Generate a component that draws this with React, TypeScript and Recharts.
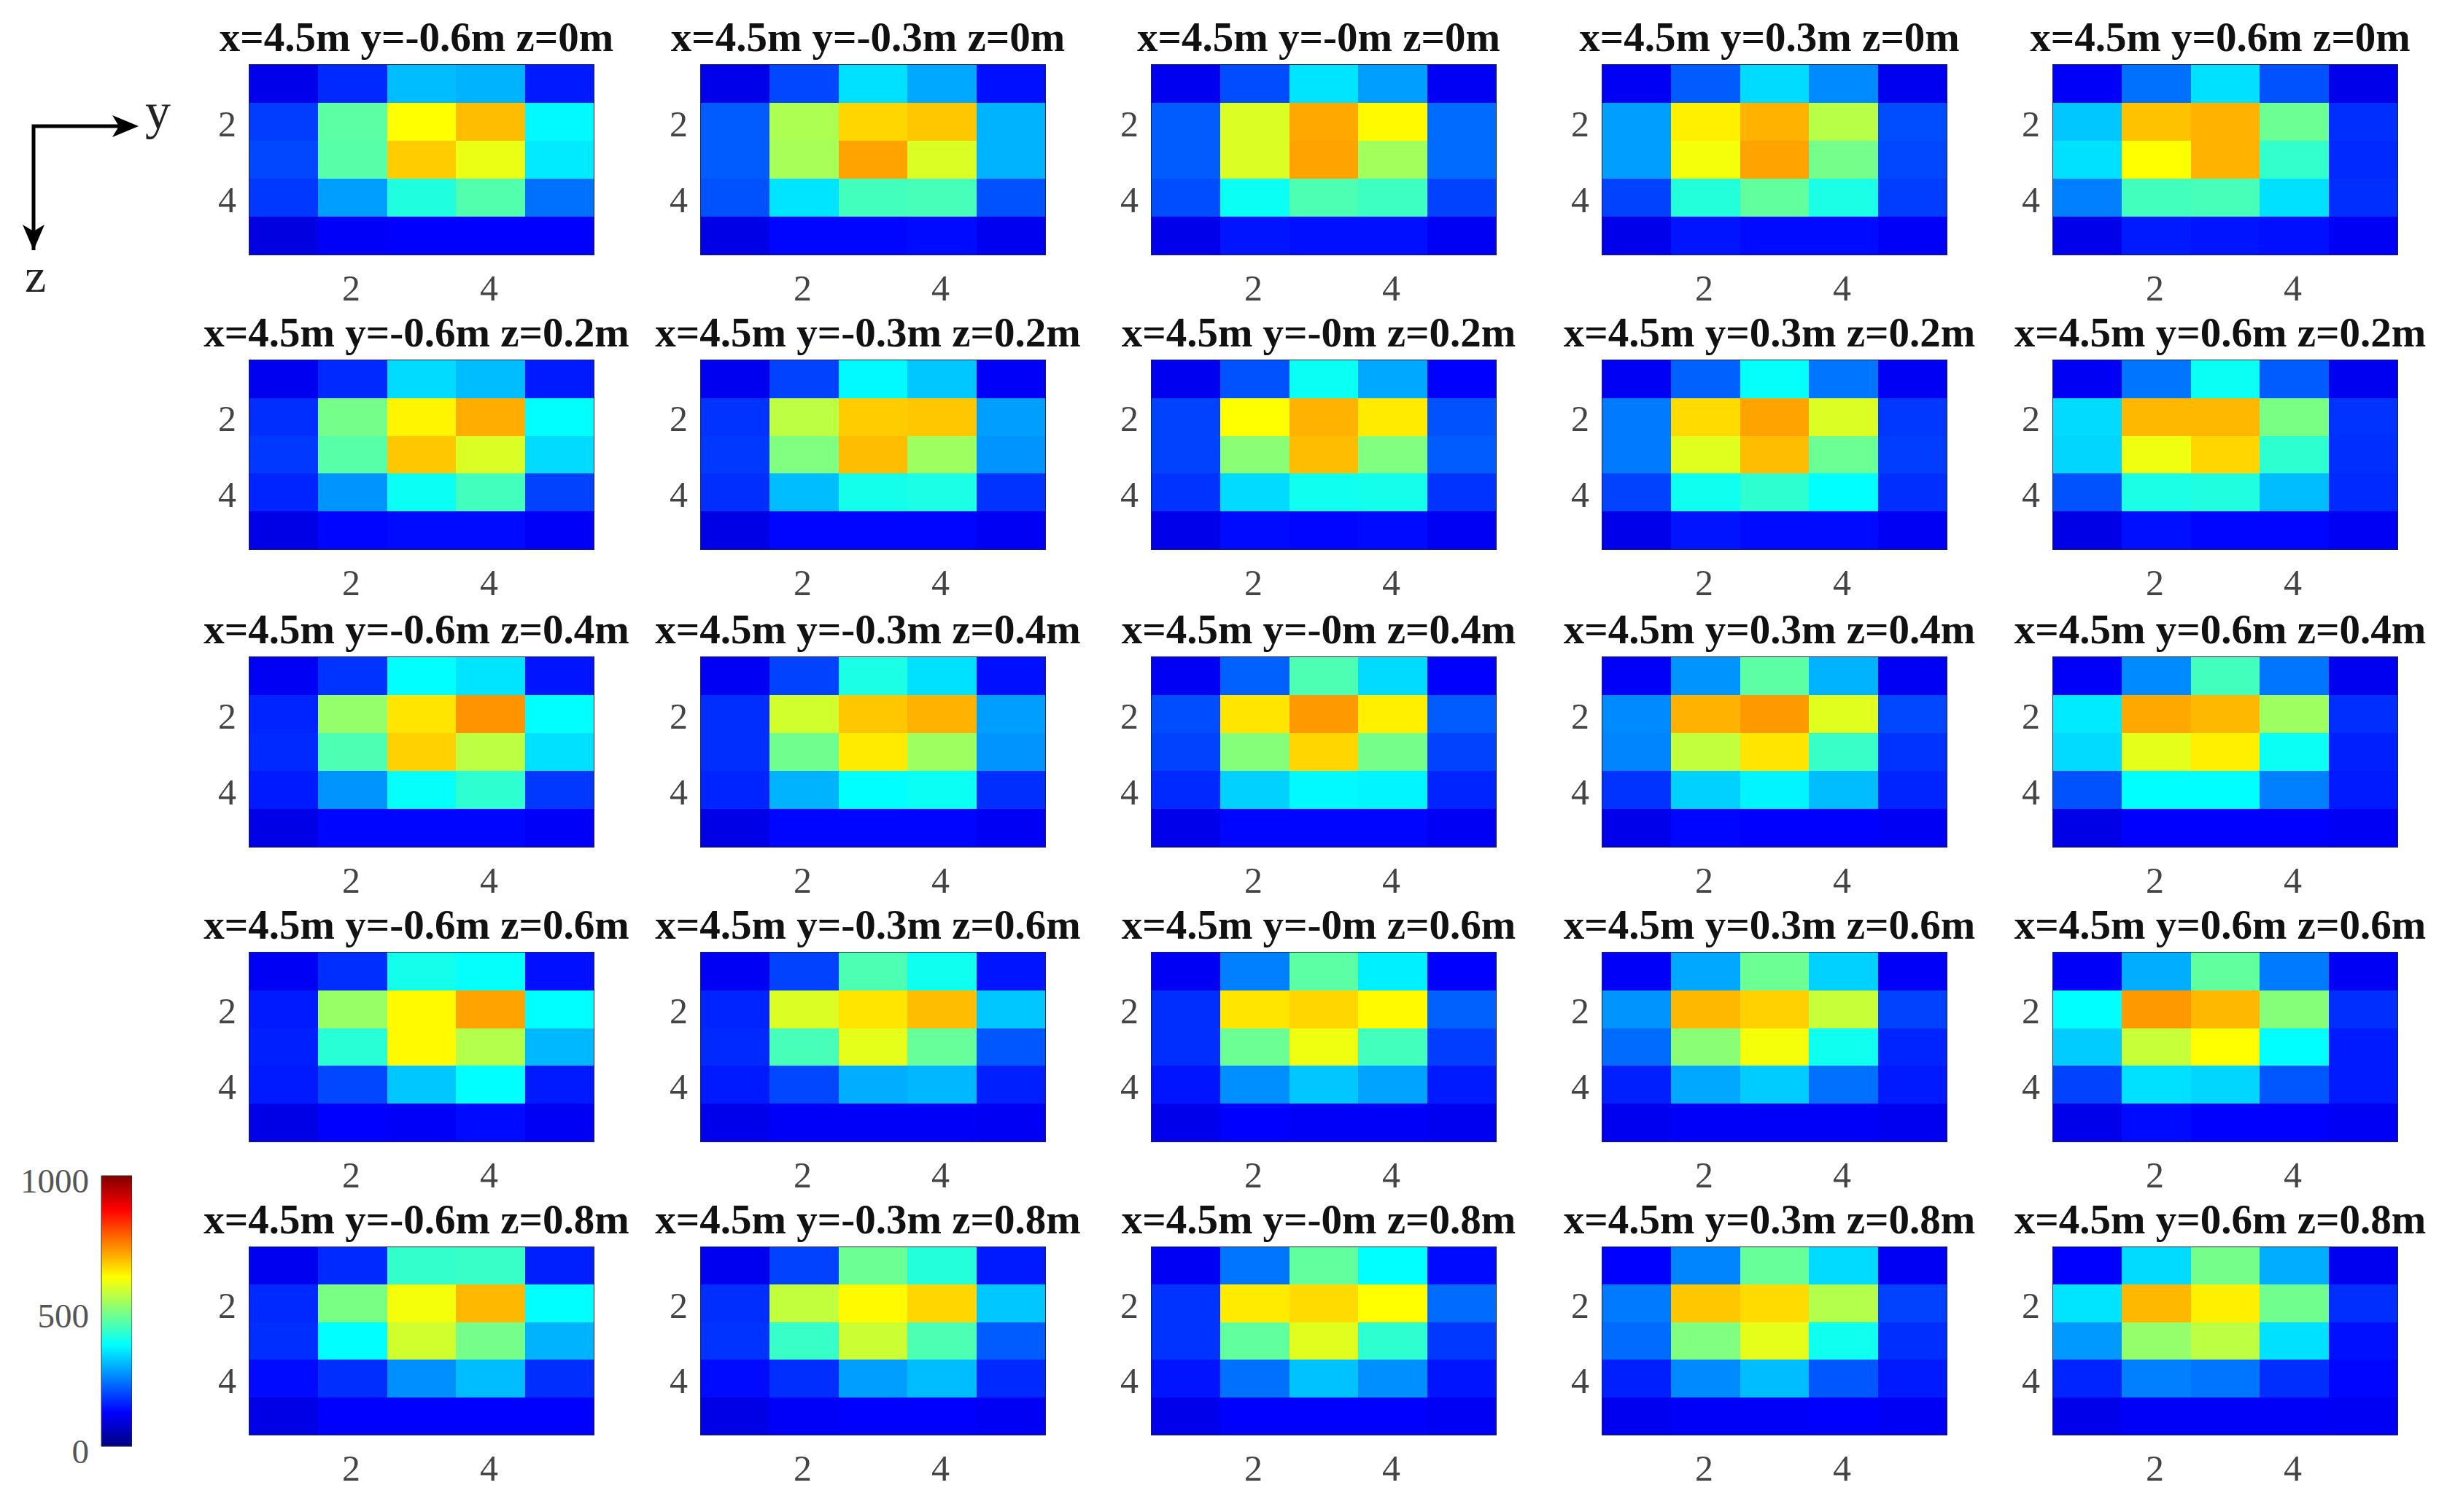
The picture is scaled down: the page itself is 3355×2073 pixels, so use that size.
import { ScatterChart, Scatter, XAxis, YAxis, ReferenceArea, ReferenceLine, BarChart, Bar } from 'recharts'

const xPos = '4.5'
const yLabels = ['-0.6', '-0.3', '-0', '0.3', '0.6']
const zLabels = ['0', '0.2', '0.4', '0.6', '0.8']
const gridTicks = [2, 4]
const barTicks = [0, 500, 1000]
const barValue = [{ name: 'scale', top: 1000 }]

// one 5x5 grid per y position, rows run top to bottom
const z00 = [
  [[105, 165, 310, 300, 150], [185, 465, 625, 690, 370], [195, 460, 675, 605, 355], [180, 280, 405, 455, 235], [95, 120, 125, 125, 125]],
  [[105, 195, 345, 290, 140], [215, 545, 665, 680, 300], [215, 540, 715, 590, 300], [205, 350, 440, 445, 205], [100, 130, 130, 135, 110]],
  [[110, 200, 350, 280, 115], [215, 590, 710, 630, 230], [215, 590, 715, 535, 230], [200, 385, 450, 435, 190], [105, 145, 140, 140, 115]],
  [[115, 215, 340, 260, 110], [280, 640, 700, 555, 200], [280, 615, 715, 490, 195], [190, 410, 470, 400, 185], [105, 145, 135, 135, 120]],
  [[120, 235, 345, 205, 105], [320, 685, 700, 480, 170], [345, 625, 700, 425, 165], [250, 440, 445, 345, 170], [105, 150, 145, 140, 115]],
]
const z02 = [
  [[110, 165, 340, 310, 150], [170, 490, 635, 705, 375], [180, 460, 680, 590, 340], [160, 270, 385, 440, 190], [100, 130, 135, 135, 120]],
  [[110, 190, 370, 320, 120], [175, 560, 675, 680, 280], [180, 500, 690, 530, 270], [170, 310, 395, 400, 175], [100, 130, 130, 130, 115]],
  [[110, 205, 385, 290, 125], [190, 625, 700, 645, 205], [190, 510, 690, 500, 215], [175, 340, 390, 395, 175], [105, 135, 130, 135, 115]],
  [[115, 220, 380, 240, 115], [245, 660, 715, 590, 180], [245, 595, 690, 480, 185], [190, 390, 420, 375, 170], [105, 145, 135, 135, 115]],
  [[115, 240, 385, 215, 110], [340, 695, 695, 495, 175], [335, 610, 665, 420, 170], [205, 400, 405, 310, 165], [100, 140, 130, 130, 115]],
]
const z04 = [
  [[115, 175, 375, 350, 145], [160, 520, 650, 730, 375], [165, 450, 670, 560, 345], [150, 270, 380, 420, 180], [100, 130, 130, 130, 120]],
  [[115, 190, 400, 345, 140], [170, 580, 680, 700, 280], [170, 485, 645, 530, 270], [160, 300, 375, 385, 170], [100, 130, 130, 130, 115]],
  [[115, 220, 450, 340, 125], [200, 650, 725, 640, 215], [190, 505, 665, 490, 190], [165, 330, 370, 365, 160], [105, 130, 130, 130, 115]],
  [[120, 270, 465, 300, 115], [260, 700, 725, 595, 195], [255, 565, 650, 430, 175], [175, 330, 365, 310, 160], [105, 130, 125, 125, 115]],
  [[120, 260, 440, 240, 110], [355, 710, 695, 530, 170], [340, 600, 640, 385, 155], [205, 375, 375, 250, 150], [100, 125, 125, 125, 115]],
]
const z06 = [
  [[115, 170, 395, 380, 140], [150, 525, 630, 715, 375], [155, 415, 630, 550, 305], [150, 195, 320, 375, 150], [100, 125, 120, 135, 115]],
  [[115, 190, 450, 390, 145], [160, 590, 650, 690, 320], [165, 445, 600, 475, 210], [150, 195, 295, 305, 155], [105, 120, 120, 120, 115]],
  [[115, 250, 465, 360, 125], [170, 650, 665, 630, 220], [170, 480, 610, 440, 185], [145, 265, 320, 285, 150], [105, 125, 120, 120, 110]],
  [[120, 290, 480, 330, 120], [270, 695, 670, 570, 190], [230, 510, 615, 390, 160], [155, 290, 325, 235, 150], [110, 120, 120, 120, 110]],
  [[120, 295, 470, 245, 115], [375, 725, 695, 505, 170], [325, 570, 625, 375, 150], [190, 345, 335, 210, 150], [105, 135, 125, 125, 115]],
]
const z08 = [
  [[110, 165, 425, 430, 155], [165, 495, 615, 695, 375], [170, 375, 580, 490, 300], [135, 170, 265, 310, 170], [100, 125, 125, 125, 125]],
  [[110, 190, 480, 410, 150], [170, 565, 630, 665, 320], [175, 430, 575, 450, 215], [135, 170, 280, 310, 165], [100, 120, 125, 125, 115]],
  [[115, 240, 470, 375, 135], [175, 645, 660, 625, 230], [175, 470, 595, 420, 180], [145, 235, 315, 265, 145], [105, 125, 125, 125, 115]],
  [[125, 255, 475, 340, 115], [245, 680, 660, 550, 190], [230, 500, 600, 390, 170], [155, 260, 310, 210, 150], [110, 120, 120, 125, 115]],
  [[125, 340, 490, 295, 110], [350, 695, 640, 485, 170], [275, 520, 560, 345, 140], [160, 250, 240, 170, 130], [105, 120, 120, 120, 115]],
]
const zGrids = [z00, z02, z04, z06, z08]

const jetStops = [
  { at: '0%', color: 'rgb(128,0,0)' },
  { at: '12.5%', color: 'rgb(255,0,0)' },
  { at: '37.5%', color: 'rgb(255,255,0)' },
  { at: '62.5%', color: 'rgb(0,255,255)' },
  { at: '87.5%', color: 'rgb(0,0,255)' },
  { at: '100%', color: 'rgb(0,0,128)' },
]

const panelLefts = [342, 961, 1579, 2197, 2815]
const panelTops = [89, 494, 901, 1306, 1710]
const panelHeights = [260, 259, 260, 259, 257]
const PLOT_W = 472
const GUTTER_L = 90
const GUTTER_T = 70
const GUTTER_R = 55
const GUTTER_B = 78
const SERIF = '"Liberation Serif", serif'

const clamp = (n: number) => Math.round(255 * Math.max(0, Math.min(1, n)))
function jet(v: number) {
  const t = v / 1000
  return `rgb(${clamp(1.5 - Math.abs(4 * t - 3))},${clamp(1.5 - Math.abs(4 * t - 2))},${clamp(1.5 - Math.abs(4 * t - 1))})`
}

function Panel({ grid, title, left, top, plotH }: { grid: number[][]; title: string; left: number; top: number; plotH: number }) {
  const cells = grid.flatMap((r, i) => r.map((value, j) => ({ col: j + 1, row: i + 1, value })))
  const tickStyle = { fontSize: 50, fill: '#444', fontFamily: SERIF }
  const cellW = PLOT_W / 5
  const cellH = plotH / 5
  const cellRect = ({ cx, cy, payload }: any) => (
    <rect x={cx - cellW / 2} y={cy - cellH / 2} width={cellW + 0.5} height={cellH + 0.5} fill={jet(payload.value)} shapeRendering="crispEdges" />
  )
  return (
    <div style={{ position: 'absolute', left: left - GUTTER_L, top: top - GUTTER_T }}>
      <ScatterChart
        width={GUTTER_L + PLOT_W + GUTTER_R}
        height={GUTTER_T + plotH + GUTTER_B}
        margin={{ top: GUTTER_T, right: GUTTER_R, bottom: 0, left: 0 }}
      >
        <XAxis type="number" dataKey="col" domain={[0.5, 5.5]} ticks={gridTicks} axisLine={false} tickLine={false} tickMargin={21} height={GUTTER_B} tick={{ ...tickStyle, dx: -2 }} allowDataOverflow />
        <YAxis type="number" dataKey="row" domain={[0.5, 5.5]} ticks={gridTicks} reversed axisLine={false} tickLine={false} tickMargin={12} width={GUTTER_L} tick={{ ...tickStyle, dy: 2 }} allowDataOverflow />
        <Scatter data={cells} shape={cellRect} isAnimationActive={false} />
        {gridTicks.map((t) => (
          <ReferenceLine key={'t' + t} segment={[{ x: t, y: 0.5 }, { x: t, y: 0.58 }]} stroke="#222" strokeWidth={2} />
        ))}
        {gridTicks.map((t) => (
          <ReferenceLine key={'r' + t} segment={[{ x: 5.5, y: t }, { x: 5.46, y: t }]} stroke="#222" strokeWidth={2} />
        ))}
        <ReferenceArea x1={0.5} x2={5.5} y1={0.5} y2={5.5} fill="none" stroke="#1c2340" strokeWidth={2} ifOverflow="visible" />
        <text x={GUTTER_L + PLOT_W / 2 - 7} y={GUTTER_T - 19} textAnchor="middle" fontFamily={SERIF} fontWeight="bold" fontSize={57} fill="#111">
          {title}
        </text>
      </ScatterChart>
    </div>
  )
}

function ColorBar() {
  return (
    <div style={{ position: 'absolute', left: 0, top: 1560 }}>
      <BarChart width={181} height={480} data={barValue} margin={{ top: 52, right: 0, bottom: 57, left: 0 }} barCategoryGap={0}>
        <defs>
          <linearGradient id="jetGrad" x1="0" y1="0" x2="0" y2="1">
            {jetStops.map((s) => (
              <stop key={s.at} offset={s.at} stopColor={s.color} />
            ))}
          </linearGradient>
        </defs>
        <XAxis dataKey="name" hide />
        <YAxis type="number" domain={[0, 1000]} ticks={barTicks} axisLine={false} tickLine={false} tickMargin={11} width={139} interval={0} tick={{ fontSize: 47, fill: '#555', fontFamily: SERIF, dy: 6 }} />
        <Bar dataKey="top" fill="url(#jetGrad)" stroke="#333" strokeWidth={1} isAnimationActive={false} />
      </BarChart>
    </div>
  )
}

function AxisKey() {
  return (
    <svg width={260} height={420} style={{ position: 'absolute', left: 0, top: 0 }}>
      <path d="M46 343 V173 H170" fill="none" stroke="#000" strokeWidth={5} />
      <path d="M190 173 L154 158 L163 173 L154 188 Z" fill="#000" />
      <path d="M46 343 L31 308 L46 317 L61 308 Z" fill="#000" />
      <text x={199} y={176} fontFamily={SERIF} fontSize={70} fill="#222">y</text>
      <text x={34} y={400} fontFamily={SERIF} fontSize={66} fill="#222">z</text>
    </svg>
  )
}

export default function App() {
  return (
    <div style={{ position: 'absolute', left: 0, top: 0, width: 3355, height: 2073, background: '#fff', overflow: 'hidden', fontFamily: SERIF }}>
      <AxisKey />
      <ColorBar />
      {zGrids.map((row, i) =>
        row.map((grid, j) => (
          <Panel
            key={i + '-' + j}
            grid={grid}
            title={`x=${xPos}m y=${yLabels[j]}m z=${zLabels[i]}m`}
            left={panelLefts[j]}
            top={panelTops[i]}
            plotH={panelHeights[i]}
          />
        ))
      )}
    </div>
  )
}
